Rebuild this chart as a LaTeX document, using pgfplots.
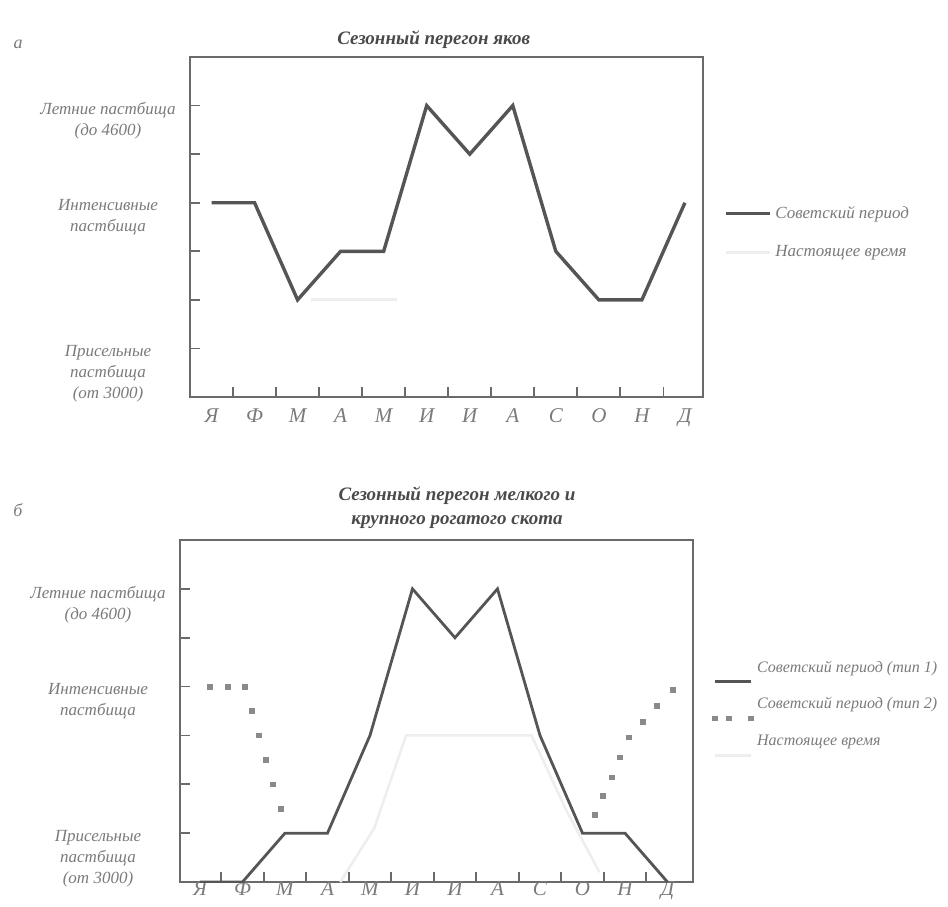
\documentclass[border=0pt]{standalone}
\usepackage{fontspec}
\setmainfont{Liberation Serif}
\usepackage{pgfplots}
\pgfplotsset{compat=1.18}
\definecolor{axgray}{HTML}{6A6A6A}
\definecolor{linegray}{HTML}{555555}
\definecolor{txtgray}{HTML}{7A7A7A}
\definecolor{titgray}{HTML}{4A4A4A}
\definecolor{markgray}{HTML}{8A8A8A}
\definecolor{faint}{HTML}{EEEEEE}
\pgfplotsset{
  mystyle/.style={
    scale only axis, width=256.5pt,
    axis line style={axgray, line width=1pt},
    ymin=0, ymax=7,
    ytick={1,...,6},
    yticklabels={{Присельные\\пастбища\\(от 3000)},{},{},{Интенсивные\\пастбища},{},{Летние пастбища\\(до 4600)}},
    tick pos=left,
    tick align=inside, major tick length=5pt,
    tick style={axgray, line width=0.9pt},
    xtick={0.5,1.5,...,10.5}, xticklabels={},
    extra x ticks={0,...,11},
    extra x tick labels={Я,Ф,М,А,М,И,И,А,С,О,Н,Д},
    extra x tick style={major tick length=0pt,
      tick label style={font=\itshape\fontsize{10.5}{11}\selectfont, text=txtgray, inner sep=0.5pt}},
    yticklabel style={align=center, anchor=north, xshift=-41pt, yshift=5pt,
      font=\itshape\fontsize{8.5}{10.5}\selectfont, text=txtgray},
    title style={font=\bfseries\itshape\fontsize{9.5}{12}\selectfont, text=titgray, align=center, anchor=south},
    legend cell align=left,
    legend style={draw=none, fill=none, anchor=north west,
      font=\itshape\fontsize{8.5}{10}\selectfont, text=txtgray, row sep=8pt, inner sep=0pt},
  },
  topline/.style={legend image code/.code={\draw[##1] (0pt,0pt) -- (22pt,0pt);}},
  lowline/.style={legend image code/.code={\draw[##1] (0pt,-7pt) -- (18pt,-7pt);}},
  threemarks/.style={legend image code/.code={\draw[##1] plot[only marks] coordinates {(0pt,-7pt) (7pt,-7pt) (18pt,-7pt)};}},
}
\begin{document}
\begin{tikzpicture}
\useasboundingbox (0,0) rectangle (474pt,-453pt);
\node[font=\itshape\fontsize{9}{10}\selectfont, text=txtgray] at (9pt,-22pt) {а};
\node[font=\itshape\fontsize{9}{10}\selectfont, text=txtgray] at (9pt,-255pt) {б};
% ---- top chart
\begin{axis}[mystyle, height=170pt,
  at={(95pt,-198.5pt)}, anchor=south west,
  xmin=-0.5, xmax=11.42,
  title={Сезонный перегон яков},
  title style={at={(0.475,1)}, yshift=-5.5pt},
  legend style={at={(1.04,0.575)}},
  extra x tick style={tick label style={yshift=-5pt}},
  topline,
]
\addplot[linegray, line width=1.7pt] coordinates {
 (0,4)(1,4)(2,2)(3,3)(4,3)(5,6)(6,5)(7,6)(8,3)(9,2)(10,2)(11,4)};
\addlegendentry{Советский период}
\addplot[faint, line width=1.5pt] coordinates {
 (2.3,2)(4.3,2)};
\addlegendentry{Настоящее время}
\end{axis}
% ---- bottom chart
\begin{axis}[mystyle, height=171pt,
  at={(90pt,-441pt)}, anchor=south west,
  xmin=-0.47, xmax=11.6,
  title={Сезонный перегон мелкого и\\крупного рогатого скота},
  title style={at={(0.54,1)}, yshift=-4pt},
  legend style={at={(1.037,0.66)}, row sep=5pt, font=\itshape\fontsize{8}{10}\selectfont},
  extra x tick style={tick label style={yshift=1pt}},
  lowline,
]
\addplot[linegray, line width=1.4pt] coordinates {
 (0,0)(1,0)(2,1)(3,1)(4,3)(5,6)(6,5)(7,6)(8,3)(9,1)(10,1)(11,0)};
\addlegendentry{Советский период (тип 1)}
\addplot[only marks, mark=square*, mark size=1.2pt, markgray, threemarks]
 coordinates {
 (0.24,4)(0.66,4)(1.06,4)(1.22,3.5)(1.39,3)(1.55,2.5)(1.72,2)(1.91,1.5)
 (9.29,1.37)(9.48,1.76)(9.69,2.14)(9.88,2.55)(10.09,2.96)(10.42,3.27)(10.75,3.61)(11.13,3.94)};
\addlegendentry{Советский период (тип 2)}
\addplot[faint, line width=1.3pt] coordinates {
 (3.3,0)(4.1,1.1)(4.85,3)(7.8,3)(8.6,1.5)(9.4,0.2)};
\addlegendentry{Настоящее время}
\end{axis}
\end{tikzpicture}
\end{document}
